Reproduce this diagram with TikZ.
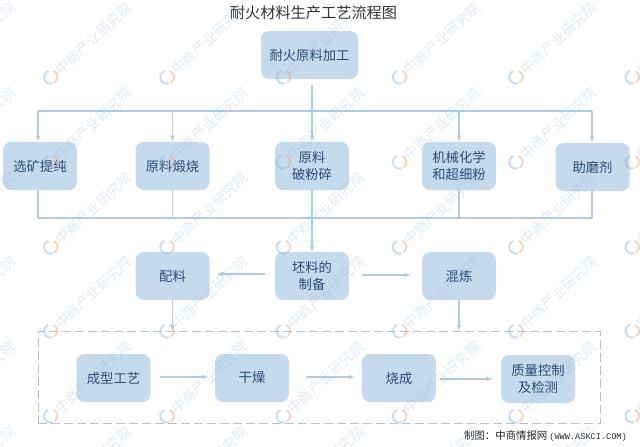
\documentclass[tikz,border=0pt]{standalone}
\usepackage{fontspec}
\setmainfont{Noto Sans CJK SC}
\newfontfamily\urlfont{Liberation Mono}
\definecolor{boxfill}{HTML}{C6DAEE}
\definecolor{boxtext}{HTML}{2A4A74}
\definecolor{flowline}{HTML}{B0CCE4}
\definecolor{markblue}{HTML}{8DB4D6}
\definecolor{markorange}{HTML}{E9A27C}
\begin{document}
\begin{tikzpicture}[
        x=1pt, y=-1pt,
        >=latex,
        stepbox/.style={draw=none, fill=boxfill, rounded corners=8pt, minimum width=74pt, minimum height=48pt,
            inner sep=0pt, align=center, text=boxtext, font=\fontsize{13.3}{17}\selectfont},
        flow/.style={draw=flowline, line width=1.1pt},
        flowarrow/.style={flow, ->},
        groupframe/.style={draw=flowline!90!gray, line width=1pt, dash pattern=on 9pt off 4pt},
        watermark/.style={anchor=west, rotate=43, inner sep=0pt, text=markblue, opacity=.28, font=\fontsize{14}{14}\selectfont},
    ]
    \useasboundingbox (0,0) rectangle (640,447);

    \node[text=black!80, font=\fontsize{15.2}{16}\selectfont](title) at (313.5,13){耐火材料生产工艺流程图};
    \node[stepbox, minimum width=97pt](raw) at (309.5,55){耐火原料加工};

    \node[stepbox](purify) at (40,166){选矿提纯};
    \node[stepbox](calcine) at (172.5,166){原料煅烧};
    \node[stepbox](crush) at (312,166){原料\\破粉碎};
    \node[stepbox](fine) at (459,166){机械化学\\和超细粉};
    \node[stepbox](aid) at (592.5,167){助磨剂};

    \node[stepbox](batch) at (172.5,276){配料};
    \node[stepbox](blank) at (312,276){坯料的\\制备};
    \node[stepbox](mix) at (459,276){混炼};

    \node[groupframe, minimum width=562pt, minimum height=92pt, inner sep=0pt](group) at (319,377.5){};
    \node[stepbox](shape) at (113.5,378){成型工艺};
    \node[stepbox](dry) at (252,378){干燥};
    \node[stepbox](fire) at (399,378){烧成};
    \node[stepbox](check) at (538,379){质量控制\\及检测};

    \node[anchor=east, inner sep=0pt, text=black!85, font=\fontsize{10.4}{12}\selectfont](source) at (627,436){制图：中商情报网\hspace{2pt}{\urlfont\fontsize{8.6}{12}\selectfont (WWW.ASKCI.COM)}};

    % the two buses
    \coordinate (upleft) at (38,111);
    \coordinate (upright) at (592,111);
    \coordinate (lowleft) at (38,218);
    \coordinate (lowright) at (592,218);
    \draw[flow] (upleft) -- (upright);
    \draw[flow] (lowleft) -- (lowright);

    \draw[flowarrow] (upleft) -- (purify.north -| upleft);
    \draw[flowarrow] (upleft -| calcine) -- (calcine.north);
    \draw[flowarrow] (upleft -| fine) -- (fine.north);
    \draw[flowarrow] (upright) -- (aid.north -| upright);
    \draw[flowarrow, shorten <=6pt] (raw.south -| crush) -- (crush.north);

    \draw[flow] (purify.south -| lowleft) -- (lowleft);
    \draw[flow] (calcine.south) -- (lowleft -| calcine);
    \draw[flow] (fine.south) -- (lowleft -| fine);
    \draw[flow] (aid.south -| lowright) -- (lowright);
    \draw[flowarrow] (crush.south) -- (blank.north);

    \draw[flowarrow, shorten <=10pt, shorten >=7pt] ([yshift=2pt]blank.west) -- ([yshift=2pt]batch.east);
    \draw[flowarrow, shorten <=13pt, shorten >=11pt] ([yshift=1pt]blank.east) -- ([yshift=1pt]mix.west);
    \draw[flowarrow] (batch.south) -- (group.north -| batch);
    \draw[flowarrow] (mix.south) -- (group.north -| mix);

    \draw[flowarrow, shorten <=9pt, shorten >=7pt] ([yshift=1pt]shape.east) -- ([yshift=1pt]dry.west);
    \draw[flowarrow, shorten <=17pt, shorten >=7pt] ([yshift=1pt]dry.east) -- ([yshift=1pt]fire.west);
    \draw[flowarrow, shorten <=4pt, shorten >=8pt] (fire.east |- check) -- (check.west);

    % watermark
    \foreach \cx in {-66,50.3,166.6,282.9,399.2,515.5,631.8}{
        \foreach \cy in {-8,77,162,247,331,416,501}{
            \draw[markblue, line width=2pt, opacity=.45] (\cx-2,\cy-6) arc[start angle=110, end angle=290, radius=6.5pt];
            \draw[markorange, line width=2pt, opacity=.45] (\cx+3,\cy-6) arc[start angle=70, end angle=-60, radius=6.5pt];
            \node[watermark](wm\cx\cy) at (\cx+7,\cy-5){中商产业研究院};
        }
    }
\end{tikzpicture}
\end{document}
